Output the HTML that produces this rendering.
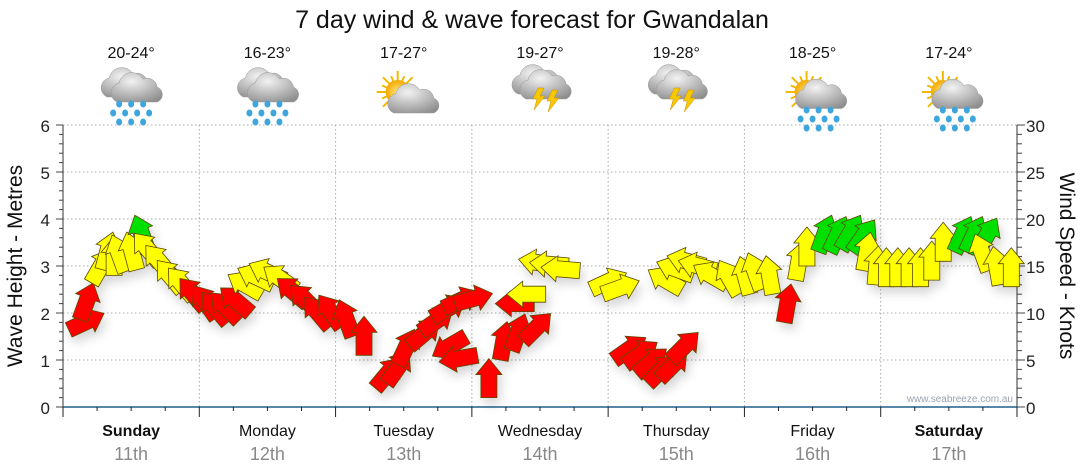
<!DOCTYPE html>
<html><head><meta charset="utf-8">
<style>
html,body{margin:0;padding:0;background:#fff;}
svg{display:block;font-family:"Liberation Sans",sans-serif;}
</style></head>
<body>
<svg id="chart" width="1080" height="475" viewBox="0 0 1080 475" xmlns="http://www.w3.org/2000/svg">
<defs>
<filter id="sh" x="-50%" y="-50%" width="200%" height="200%"><feDropShadow dx="3" dy="6" stdDeviation="5" flood-color="#000" flood-opacity="0.16"/></filter>
<radialGradient id="cloudG" cx="40%" cy="30%" r="80%"><stop offset="0" stop-color="#f2f2f2"/><stop offset="1" stop-color="#8d8d8d"/></radialGradient>
<radialGradient id="sunG" cx="50%" cy="50%" r="50%"><stop offset="0" stop-color="#ffe680"/><stop offset="1" stop-color="#f2a900"/></radialGradient>
</defs>
<text x="532" y="28" font-size="25" text-anchor="middle" fill="#111">7 day wind &amp; wave forecast for Gwandalan</text>
<g id="grid"></g><g id="axes"></g><g id="icons"></g>
<text transform="translate(22,266) rotate(-90)" font-size="21" text-anchor="middle" fill="#111">Wave Height - Metres</text>
<text transform="translate(1060,266) rotate(90)" font-size="21" text-anchor="middle" fill="#111">Wind Speed - Knots</text>
<text x="1013" y="402" font-size="10" text-anchor="end" fill="#9aa3b0">www.seabreeze.com.au</text>
<g id="arrows" filter="url(#sh)"></g>
</svg>
<script>
const days=["Sunday","Monday","Tuesday","Wednesday","Thursday","Friday","Saturday"];
const dates=["11th","12th","13th","14th","15th","16th","17th"];
const temps=["20-24°","16-23°","17-27°","19-27°","19-28°","18-25°","17-24°"];
const icons=["rain","rain","suncloud","storm","storm","sunrain","sunrain"];
const waveTicks=[0,1,2,3,4,5,6];
const windTicks=[0,5,10,15,20,25,30];
const windSpeed=[8.2,9.3,13.2,14.6,14,14.4,14.6,16.5,15.3,14,12.4,11.6,
10.5,9.5,9,9.2,10,12,13,13.5,12.5,11,10,8.5,
8.5,7.5,5.5,2,2.5,4.5,6.5,8,9.5,10.5,11,7.5,
5.5,1,5,6,7,11,12,15,15,14.5,12.5,12,
5,4.5,3.5,2.5,3,5,12.5,14,15,14.5,13,12,
12,12.5,12,9,13.5,15,16.5,16.5,16.8,16.5,14.5,13,
12.8,12.8,12.8,12.8,13.5,15.5,16.5,16.5,16.5,14.5,13,12.8];
const windDir=[65,20,30,15,0,-20,-15,-20,-40,-40,-40,-40,
-40,-35,-40,-45,-50,-60,-65,-65,-55,-50,-45,-40,
-35,-20,0,40,35,25,50,55,60,65,75,240,
260,0,10,20,45,270,270,280,275,275,65,70,
55,55,50,45,45,45,300,290,285,285,300,330,
-15,-20,-10,10,10,0,20,25,30,35,10,5,
0,0,0,0,0,0,25,25,30,-20,-10,0];

const NS="http://www.w3.org/2000/svg";
const X0=63,X1=1017,Y0=407,Y1=125;
const dayW=(X1-X0)/7;
const yWave=v=>Y0-(v/6)*(Y0-Y1);
const yWind=v=>Y0-(v/30)*(Y0-Y1);
const xIdx=i=>X0+(i+0.5)*(X1-X0)/windSpeed.length;
function mk(tag,attrs,parent){const e=document.createElementNS(NS,tag);for(const k in attrs)e.setAttribute(k,attrs[k]);parent.appendChild(e);return e;}
const grid=document.getElementById('grid'),axes=document.getElementById('axes'),icg=document.getElementById('icons'),arr=document.getElementById('arrows');

waveTicks.forEach(v=>{
 if(v>0){const l=mk('line',{x1:X0,x2:X1,y1:yWave(v),y2:yWave(v),stroke:'#aaa','stroke-dasharray':'1.5,2.5'},grid);
 
 }
 const t=mk('text',{x:50,y:yWave(v)+7,'font-size':17,'text-anchor':'end',fill:'#222'},axes);t.textContent=v;
 
 
});
for(let m=0;m<=30;m++){const y=Y0-(m/30)*(Y0-Y1);mk('line',{x1:X0-(m%5?4:7),x2:X0,y1:y,y2:y,stroke:'#444'},axes);}
for(let m=0;m<=30;m++){const y=yWind(m);mk('line',{x1:X1,x2:X1+(m%5?5:8),y1:y,y2:y,stroke:'#444'},axes);}
windTicks.forEach(v=>{
 const t=mk('text',{x:1026,y:yWind(v)+7,'font-size':17,fill:'#222'},axes);t.textContent=v;
 
 
});
mk('line',{x1:X0,x2:X0,y1:Y1,y2:Y0,stroke:'#333'},axes);
mk('line',{x1:X1,x2:X1,y1:Y1,y2:Y0,stroke:'#333'},axes);
for(let d=1;d<7;d++){const x=X0+d*dayW;const l=mk('line',{x1:x,x2:x,y1:Y1,y2:Y0,stroke:'#aaa','stroke-dasharray':'1.5,2.5'},grid);
 
 }
mk('line',{x1:X0,x2:X1,y1:Y0,y2:Y0,stroke:'#1f5f8b','stroke-width':1.5},axes);
for(let q=0;q<=28;q++){const x=X0+q*dayW/4;mk('line',{x1:x,x2:x,y1:Y0,y2:Y0+(q%4?4:10),stroke:'#222'},axes);}

function cloud(g,cx,cy,s){
 mk('path',{d:`M${cx-20*s},${cy+10*s} a10,10 0 0 1 2,-19 a13,13 0 0 1 24,-4 a10,10 0 0 1 14,8 a8,8 0 0 1 0,15 z`,fill:'url(#cloudG)',stroke:'#999','stroke-width':0.5},g);
}
function sun(g,cx,cy){
 for(let a=0;a<360;a+=22.5){const r=a*Math.PI/180;mk('line',{x1:cx+Math.cos(r)*10,y1:cy+Math.sin(r)*10,x2:cx+Math.cos(r)*(a%45?17:21),y2:cy+Math.sin(r)*(a%45?17:21),stroke:'#f5b800','stroke-width':2},g);}
 mk('circle',{cx:cx,cy:cy,r:12,fill:'url(#sunG)'},g);
}
function drops(g,cx,cy){
 [[-12,0],[0,0],[12,0],[-18,9],[-6,9],[6,9],[18,9],[-12,18],[0,18],[12,18]].forEach(p=>mk('ellipse',{cx:cx+p[0],cy:cy+p[1],rx:3,ry:3.5,fill:'#3ea6dc'},g));
}
function bolt(g,cx,cy){mk('polygon',{points:`${cx},${cy} ${cx+6},${cy} ${cx+2},${cy+8} ${cx+7},${cy+8} ${cx-4},${cy+22} ${cx-1},${cy+11} ${cx-5},${cy+11}`,fill:'#f7c800',stroke:'#c98f00','stroke-width':0.5},g);}
days.forEach((d,i)=>{
 const cx=X0+(i+0.5)*dayW;
 const g=mk('g',{},icg);
 
 
 const t=mk('text',{x:cx,y:58,'font-size':16,'text-anchor':'middle',fill:'#111'},icg);t.textContent=temps[i];
 
 
 const k=icons[i];
 if(k==='rain'){cloud(g,cx-6,88,0.9);cloud(g,cx+6,92,1);drops(g,cx,104);}
 else if(k==='suncloud'){sun(g,cx-6,92);cloud(g,cx+8,104,0.9);}
 else if(k==='storm'){cloud(g,cx-6,86,0.8);cloud(g,cx+4,90,0.9);bolt(g,cx-2,88);bolt(g,cx+12,90);}
 else{sun(g,cx-6,92);cloud(g,cx+6,100,0.85);drops(g,cx+6,110);}
 const dn=mk('text',{x:cx,y:436,'font-size':16,'text-anchor':'middle',fill:'#111','font-weight':(i===0||i===6)?'bold':'normal'},axes);dn.textContent=d;
 
 
 const dt=mk('text',{x:cx,y:460,'font-size':18,'text-anchor':'middle',fill:'#888'},axes);dt.textContent=dates[i];
 
 
});
const shape="-8,0 8,0 8,-23 13,-23 0,-39 -13,-23 -8,-23";
windSpeed.forEach((v,i)=>{
 const col=v<11.5?'#ff0000':(v<16?'#ffff00':'#00e000');
 const p=mk('polygon',{points:shape,fill:col,stroke:'#5a4a00','stroke-width':0.8,'stroke-linejoin':'miter',transform:`translate(${xIdx(i).toFixed(1)},${yWind(v).toFixed(1)}) rotate(${windDir[i]})`},arr);
 
 
});
</script>
</body></html>
